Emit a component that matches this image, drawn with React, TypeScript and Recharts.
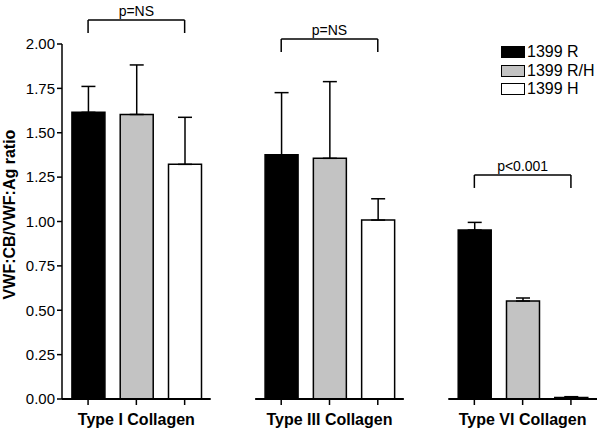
import { BarChart, Bar, Cell, XAxis, YAxis, ErrorBar, ReferenceLine } from "recharts"

// groups and series
const categories = ["Type I Collagen", "Type III Collagen", "Type VI Collagen"]
const seriesNames = ["1399 R", "1399 R/H", "1399 H"]
const seriesColors = ["#000000", "#c3c3c3", "#ffffff"]

// means per group (R, R/H, H)
const meanR = [1.615, 1.376, 0.952]
const meanRH = [1.603, 1.356, 0.552]
const meanH = [1.322, 1.008, 0.008]

// upper error (SD)
const errR = [0.146, 0.35, 0.043]
const errRH = [0.279, 0.432, 0.017]
const errH = [0.265, 0.12, 0.005]

const yTicks = [0, 0.25, 0.5, 0.75, 1.0, 1.25, 1.5, 1.75, 2.0]

// significance brackets
const bracketText = ["p=NS", "p=NS", "p<0.001"]
const bracketTop = [2.135, 2.028, 1.262]
const bracketFoot = [2.062, 1.955, 1.189]

const means = [meanR, meanRH, meanH]
const errs = [errR, errRH, errH]

const data = categories.flatMap((_, g) =>
    seriesNames.map((_, s) => ({
        x: g * 4 + s + 0.5,
        value: means[s][g],
        err: [0, errs[s][g]],
        fill: seriesColors[s],
    }))
)

const xTicks = data.map((d) => d.x)

const fmtX = (v: number) => {
    const i = xTicks.indexOf(v)
    return i % 3 === 1 ? categories[Math.floor(i / 3)] : ""
}

function LegendBox() {
    return (
        <div
            style={{
                position: "absolute",
                left: 501,
                top: 43,
                fontSize: 16,
                lineHeight: "18.5px",
                color: "#000",
            }}
        >
            {seriesNames.map((name, i) => (
                <div key={name} style={{ display: "flex", alignItems: "center" }}>
                    <span
                        style={{
                            display: "inline-block",
                            width: 22,
                            height: 10,
                            background: seriesColors[i],
                            border: "1px solid #000",
                            marginRight: 2,
                        }}
                    />
                    {name}
                </div>
            ))}
        </div>
    )
}

export default function App() {
    return (
        <div style={{ position: "absolute", left: 0, top: 0, fontFamily: "'Liberation Sans', Arial, sans-serif" }}>
            <BarChart width={601} height={431} data={data} margin={{ top: 44, right: 4, bottom: 0, left: 0 }}>
                <XAxis
                    dataKey="x"
                    type="number"
                    domain={[-0.04, 11.04]}
                    ticks={xTicks}
                    tickFormatter={fmtX}
                    axisLine={false}
                    tickLine={{ stroke: "#000", strokeWidth: 1.5 }}
                    tickSize={6}
                    tickMargin={9}
                    height={32}
                    interval={0}
                    tick={{ fill: "#000", fontSize: 16, fontWeight: "bold" }}
                />
                <YAxis
                    domain={[0, 2]}
                    ticks={yTicks}
                    tickFormatter={(v: number) => v.toFixed(2)}
                    width={62}
                    axisLine={{ stroke: "#000", strokeWidth: 1.5 }}
                    tickLine={{ stroke: "#000", strokeWidth: 1.5 }}
                    tickSize={5}
                    tickMargin={2}
                    tick={{ fill: "#000", fontSize: 15 }}
                    allowDataOverflow
                    label={{
                        value: "VWF:CB/VWF:Ag ratio",
                        angle: -90,
                        position: "center",
                        dx: -22,
                        dy: -7,
                        style: { fontSize: 16, fontWeight: "bold", fill: "#000" },
                    }}
                />
                {[0, 1, 2].map((g) => (
                    <ReferenceLine
                        key={"ax" + g}
                        segment={[
                            { x: g * 4 - 0.04, y: 0 },
                            { x: g * 4 + 3.04, y: 0 },
                        ]}
                        stroke="#000"
                        strokeWidth={1.8}
                        ifOverflow="visible"
                    />
                ))}
                <Bar dataKey="value" barSize={33} stroke="#000" strokeWidth={1.5} isAnimationActive={false}>
                    {data.map((d, i) => (
                        <Cell key={i} fill={d.fill} />
                    ))}
                    <ErrorBar dataKey="err" direction="y" width={7} stroke="#000" strokeWidth={1.5} />
                </Bar>
                {bracketText.map((t, g) => [
                    <ReferenceLine
                        key={"bl" + g}
                        segment={[
                            { x: g * 4 + 0.5, y: bracketFoot[g] },
                            { x: g * 4 + 0.5, y: bracketTop[g] },
                        ]}
                        stroke="#000"
                        strokeWidth={1.5}
                        ifOverflow="visible"
                    />,
                    <ReferenceLine
                        key={"bt" + g}
                        segment={[
                            { x: g * 4 + 0.5, y: bracketTop[g] },
                            { x: g * 4 + 2.5, y: bracketTop[g] },
                        ]}
                        stroke="#000"
                        strokeWidth={1.5}
                        ifOverflow="visible"
                        label={{ value: t, position: "top", offset: 4, style: { fontSize: 14, fill: "#000" } }}
                    />,
                    <ReferenceLine
                        key={"br" + g}
                        segment={[
                            { x: g * 4 + 2.5, y: bracketFoot[g] },
                            { x: g * 4 + 2.5, y: bracketTop[g] },
                        ]}
                        stroke="#000"
                        strokeWidth={1.5}
                        ifOverflow="visible"
                    />,
                ])}
            </BarChart>
            <LegendBox />
        </div>
    )
}
